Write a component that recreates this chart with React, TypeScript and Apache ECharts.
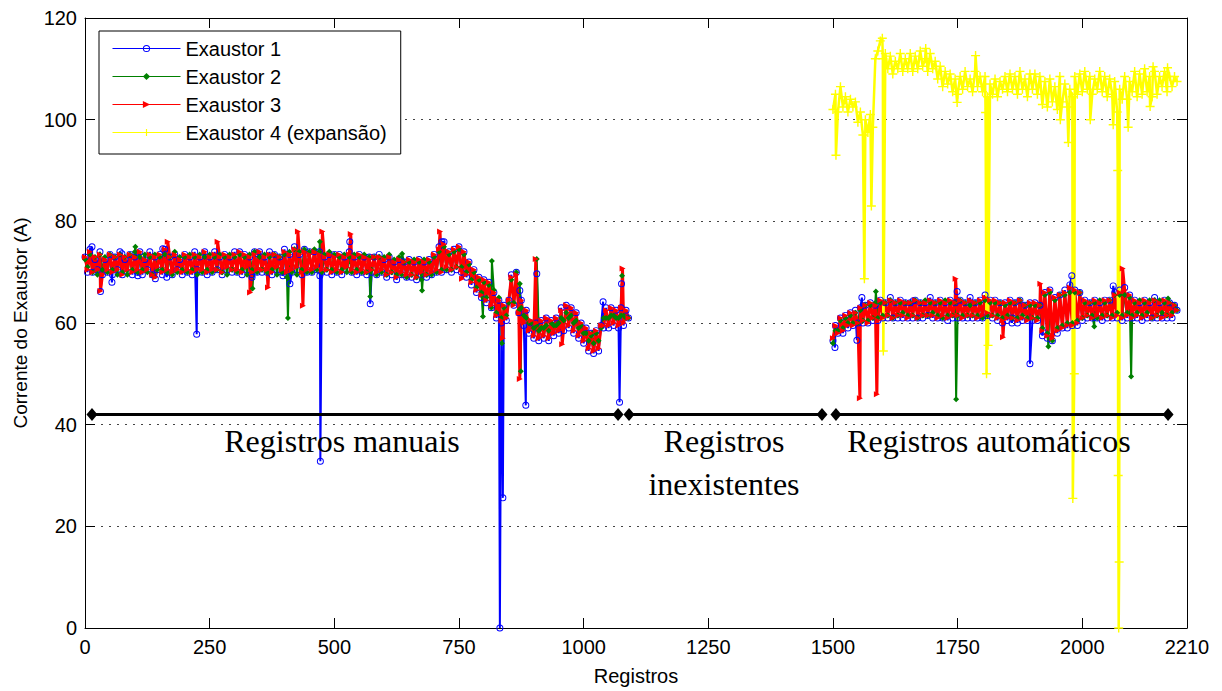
import React, { useEffect, useRef } from "react";
import * as echarts from "echarts";

// ---------- DATA ----------
const xTickStep = 250;
const xMax = 2210;
const yMax = 120;

// manual records: x = 0, 5, 10, ... 1090 ; automatic records: x = 1500, 1505, ... 2190
const manualStart = 0;
const autoStart = 1500;
const recordStep = 5;

const e1Manual = [
  73, 70, 74.5, 70, 72.5, 70.5, 74, 69.5, 72.5, 70,
  73.5, 69.5, 73, 70.5, 74, 69.5, 72.5, 70, 73.5, 69.5,
  73, 70, 74, 69.5, 72.5, 70.5, 74, 69.5, 73, 70.5,
  73.5, 69.5, 74.5, 70, 73, 69.5, 73.5, 70.5, 72.5, 69.5,
  73.5, 70, 73, 69.5, 74, 70.5, 73, 70, 74, 69.5,
  73, 70, 74, 70.5, 73, 69.5, 73.5, 70.5, 73, 70,
  74, 70, 74, 69.5, 73.5, 70.5, 73, 69.5, 74, 70,
  74, 70, 73, 70, 74, 69.5, 73.5, 70.5, 73, 70,
  74.5, 69.5, 73.5, 70, 75, 70.5, 73.5, 69.5, 74.5, 70,
  74, 70, 74, 70.5, 74, 70, 73, 70, 73.5, 69.5,
  73.5, 70, 73.5, 69.5, 73, 70.5, 74, 70, 73, 69.5,
  73.5, 70, 73, 69.5, 73, 70, 73, 69.5, 73.5, 70,
  72.5, 69, 73, 69.5, 72, 68.5, 72.5, 69.5, 72, 69,
  72.5, 69, 72, 68.5, 72.5, 69.5, 72, 69, 72.5, 69.5,
  73.5, 70, 75, 70, 76, 70.5, 74, 70, 74.5, 70.5,
  75, 70, 74, 69, 72, 67.5, 70.5, 66, 69, 65,
  68.5, 64, 68, 63, 66, 61, 64.5, 60, 63.5, 60.5,
  64.5, 69.5, 63.5, 70, 62, 64.5, 59.5, 62.5, 58, 60,
  57, 60, 56.5, 60.5, 57, 61, 56.5, 60.5, 57.5, 61,
  58, 63, 58.5, 63.5, 59, 63, 58, 62, 57, 60,
  56, 59, 54.5, 58, 54, 58.5, 54.5, 59.5, 59, 63,
  59, 63, 59.5, 62.5, 59, 63, 59.5, 62.5, 61,
];
const e2Manual = [
  72.5, 71, 73.5, 70, 73, 69.5, 73.5, 70.5, 73, 70,
  73.5, 70.5, 73, 69.5, 73.5, 70, 73, 69.5, 73.5, 70.5,
  74, 70, 73, 70.5, 73.5, 70, 73, 69.5, 73.5, 70.5,
  73, 70.5, 73.5, 70, 73, 69.5, 74, 70, 73, 70.5,
  73, 70, 73.5, 70.5, 73, 69.5, 73.5, 70, 73, 70.5,
  73.5, 70, 73, 70.5, 73.5, 70, 73, 69.5, 73.5, 70.5,
  73, 70, 73.5, 70.5, 73, 69.5, 73.5, 70.5, 74, 70,
  73, 70.5, 73.5, 70, 73, 70.5, 73.5, 69.5, 73, 70,
  73.5, 69, 74, 70, 74.5, 69.5, 74, 70.5, 74.5, 70,
  74, 70, 74.5, 70.5, 74, 70, 73.5, 70.5, 74, 70.5,
  73.5, 70, 73, 70.5, 73.5, 70, 73, 70, 73.5, 70.5,
  73, 70, 73.5, 70, 73, 70.5, 73, 69.5, 73, 70,
  73, 69.5, 73.5, 70, 72.5, 69.5, 73, 69.5, 72, 69,
  72, 69.5, 72.5, 69, 72, 68.5, 72.5, 69.5, 72, 69.5,
  73, 70, 74, 70.5, 75, 70.5, 73.5, 70.5, 74, 71,
  74.5, 71, 73.5, 70, 71.5, 68.5, 70, 67, 68.5, 66,
  68, 65, 67.5, 63, 66.5, 62, 65, 61, 63, 61.5,
  64, 68.5, 64, 70, 62.5, 63, 61.5, 61, 60, 60,
  59, 59.5, 58.5, 59, 59, 59.5, 58.5, 60, 59.5, 59.5,
  60, 61, 60.5, 62, 61, 61.5, 60, 60.5, 59, 59.5,
  58, 58, 56.5, 57.5, 56, 58, 56.5, 59, 61, 61,
  61, 61.5, 61.5, 61, 61, 61.5, 61.5, 61, 61,
];
const e3Manual = [
  73, 70.5, 74, 70, 73, 70.5, 73.5, 69.5, 72.5, 70.5,
  73.5, 70, 73, 70.5, 73.5, 69.5, 73, 70.5, 73.5, 70,
  73, 70.5, 74, 70, 72.5, 70.5, 73.5, 69.5, 73, 71,
  73.5, 70, 74.5, 70.5, 73, 70, 73.5, 70.5, 72.5, 70,
  73.5, 70.5, 73, 70, 73.5, 70.5, 73, 70.5, 74, 70,
  73, 70.5, 73.5, 70.5, 73, 70, 73.5, 71, 73, 70.5,
  73.5, 70.5, 74, 70, 73.5, 71, 73, 70, 73.5, 70.5,
  74, 70.5, 73, 70.5, 73.5, 70, 73.5, 71, 73, 70.5,
  74, 70, 73.5, 70.5, 74.5, 71, 73.5, 70, 74, 70.5,
  73.5, 70.5, 74, 71, 73.5, 70.5, 73, 70.5, 73.5, 70,
  73, 70.5, 73.5, 70, 73, 71, 73.5, 70.5, 73, 70,
  73.5, 70.5, 73, 70, 72.5, 70.5, 73, 70, 73, 70.5,
  72.5, 69.5, 73, 70, 72, 69, 72.5, 70, 72, 69.5,
  72.5, 69.5, 72, 69, 72.5, 70, 72, 69.5, 72.5, 70,
  73.5, 70.5, 74.5, 70, 75.5, 71, 74, 70.5, 74.5, 71,
  75, 70.5, 74, 69.5, 72, 68, 70.5, 66.5, 69, 65.5,
  68.5, 64.5, 68, 63.5, 66, 61.5, 64.5, 60.5, 63.5, 61,
  64.5, 69, 63.5, 69.5, 62, 64.5, 60, 62.5, 58.5, 60.5,
  57.5, 60, 57, 60.5, 57.5, 61, 57, 60.5, 58, 61,
  58.5, 62.5, 59, 63.5, 59.5, 63, 58.5, 62, 57.5, 60,
  56.5, 59, 55, 58, 54.5, 58.5, 55, 59.5, 59.5, 62.5,
  59.5, 63, 60, 62.5, 59.5, 63, 60, 62.5, 61,
];

const e1Auto = [
  56.5, 59.5, 58, 61, 58, 61.5, 59, 62, 59.5, 62.5,
  60, 63, 60, 63.5, 60, 64, 60.5, 63.5, 60.5, 64.5,
  61, 64, 61, 65, 61, 64, 61, 64.5, 61, 64,
  61, 64, 61, 64.5, 61, 64, 61, 64, 61.5, 65,
  61, 64, 61, 64.5, 61, 64, 60.5, 64.5, 61, 64,
  61, 64.5, 61, 64, 61, 65, 61, 64, 61, 64.5,
  61, 65.5, 61.5, 64.5, 61, 64.5, 60.5, 64, 60, 64,
  60.5, 64.5, 61, 64, 60, 64.5, 60.5, 63.5, 60.5, 64,
  60.5, 64, 60.5, 63.5, 57.5, 66, 57, 66.5, 56.5, 65,
  58, 65.5, 59, 66.5, 59, 67.5, 59.5, 66.5, 59.5, 66,
  60.5, 64.5, 61, 64, 61, 64.5, 61, 64, 60.5, 64.5,
  61, 64.5, 61, 66, 61, 66.5, 60.5, 67, 61, 65.5,
  61, 64.5, 61, 64, 60.5, 64.5, 61, 64, 61, 65,
  61, 64, 61, 64.5, 61, 64, 61, 63.5, 62.5,
];
const e2Auto = [
  56, 58.5, 58.5, 60.5, 59, 61, 60, 61.5, 60, 62,
  60, 62.5, 60.5, 63.5, 60.5, 63.5, 61, 64, 61, 64,
  61.5, 64, 61.5, 64.5, 61, 64, 61.5, 64, 62, 64,
  61.5, 64, 61.5, 64.5, 61, 64, 61.5, 64.5, 61.5, 64,
  62, 64, 61.5, 64, 61, 64.5, 61.5, 64, 61.5, 64,
  61.5, 64.5, 61.5, 64, 61.5, 63.5, 61.5, 64, 61.5, 64,
  61, 64.5, 61.5, 64, 61.5, 64, 61.5, 64, 61, 63.5,
  61.5, 64, 61, 64, 61, 64.5, 61.5, 63.5, 61, 63.5,
  61, 63.5, 61, 63.5, 59, 65.5, 58, 66, 56.5, 64.5,
  59, 65.5, 59.5, 65.5, 60, 66, 60, 66, 60.5, 66,
  61, 64, 61.5, 64, 61.5, 64, 61, 64.5, 61.5, 64,
  61.5, 64.5, 61.5, 65.5, 62, 65.5, 61.5, 65.5, 62, 65,
  61.5, 64, 62, 64.5, 61.5, 64, 62, 64.5, 61, 64.5,
  61.5, 64.5, 62, 64, 61.5, 64, 62, 63.5, 62.5,
];
const e3Auto = [
  57, 59.5, 58, 61, 58.5, 61.5, 59.5, 62, 59.5, 62,
  60, 63, 60.5, 63.5, 60, 64, 61, 63.5, 60.5, 64.5,
  61, 64, 61.5, 64.5, 61, 64, 61.5, 64.5, 61.5, 64,
  61, 64, 61.5, 64.5, 61, 64, 61.5, 64, 61.5, 64.5,
  61.5, 64, 61, 64.5, 61.5, 64, 61, 64.5, 61.5, 64,
  61.5, 64.5, 61, 64, 61.5, 64.5, 61.5, 64, 61, 64.5,
  61.5, 65, 62, 64.5, 61.5, 64.5, 61, 64, 60.5, 64,
  61, 64.5, 61, 64, 60.5, 64.5, 61, 63.5, 60.5, 64,
  61, 64, 60.5, 63.5, 58.5, 66, 57.5, 66.5, 57, 65,
  58.5, 65.5, 59, 66, 59.5, 67, 59.5, 66.5, 60, 66,
  61, 64.5, 61.5, 64, 61, 64.5, 61.5, 64, 61, 64.5,
  61.5, 64.5, 61, 65.5, 61.5, 66, 61, 66.5, 61.5, 65.5,
  61, 64.5, 61.5, 64, 61, 64.5, 61.5, 64, 61, 64.5,
  61.5, 64, 61, 64.5, 61.5, 64, 61.5, 63.5, 62.5,
];
const e4Auto = [
  102, 105, 101.5, 106.5, 102.5, 104.5, 101.5, 104, 102.5, 103.5,
  99.5, 101.5, 97, 100, 97.5, 101, 98.5, 112, 113.5, 115.5,
  112, 113, 110, 112.5, 109, 111.5, 110, 113, 109.5, 112,
  110, 113, 109.5, 112.5, 110, 113.5, 110.5, 112, 109.5, 113,
  110, 111.5, 108, 110.5, 106.5, 109.5, 107, 109, 105.5, 108,
  105, 108.5, 106, 109.5, 106.5, 108, 105.5, 109.5, 106.5, 108.5,
  105.5, 108.5, 104.5, 107, 105, 108, 104.5, 107.5, 106, 108.5,
  105.5, 109, 106, 108.5, 105, 109.5, 106, 108, 104.5, 109,
  106, 109, 105, 108.5, 103, 107.5, 102.5, 108, 103.5, 106.5,
  102, 108.5, 103.5, 107, 102.5, 106, 104.5, 108.5, 105, 109,
  105.5, 109.5, 106, 108.5, 105, 108, 106, 109.5, 105.5, 108.5,
  104.5, 108, 105, 107.5, 101.5, 106, 104, 108.5, 104, 107.5,
  105.5, 109.5, 104.5, 109, 105, 110, 105.5, 108.5, 104.5, 109.5,
  105, 108.5, 106.5, 109.5, 105.5, 108.5, 106.5, 108.5, 107.5,
];

// isolated readings (outliers) as [registro, corrente]
const e1ManualSpikes = [
  [14, 75], [31, 66.2], [54, 68], [74, 73.6], [106, 69.3], [141, 68.7], [156, 74.6],
  [164, 69], [224, 57.8], [335, 69], [347, 73.6], [397, 69.3], [411, 67.7], [471, 69.3],
  [472, 32.8], [531, 76], [572, 63.8], [716, 76], [832, 0], [838, 25.6], [872, 66.4],
  [884, 43.8], [906, 69.7], [1039, 64.2], [1072, 44.4], [1076, 67.7],
];
const e2ManualSpikes = [
  [101, 75], [336, 66.8], [407, 61], [471, 76], [572, 65.2], [636, 73.6], [676, 66.4],
  [798, 61.3], [816, 72.2], [836, 56], [872, 67.7], [874, 50.5], [906, 72.6], [1017, 58],
  [1077, 69.3],
];
const e3ManualSpikes = [
  [31, 66.3], [141, 69], [166, 76], [266, 76], [331, 66], [367, 67], [427, 78], [437, 63.4],
  [476, 78], [533, 77.5], [712, 78], [756, 68.7], [838, 57], [872, 49], [904, 72.6],
  [957, 55.8], [1078, 70.7],
];
const e1AutoSpikes = [
  [1504, 55.2], [1548, 56.6], [1558, 65], [1661, 64.4], [1749, 66.2], [1859, 60],
  [1895, 52], [1921, 58.3], [1979, 69.3], [2062, 67.3],
];
const e2AutoSpikes = [
  [1586, 66.2], [1747, 45], [1932, 55.4], [2024, 59.3], [2098, 49.5], [2172, 64.8],
];
const e3AutoSpikes = [
  [1554, 45.2], [1588, 46], [1746, 68.7], [1841, 57.2], [1916, 67.7], [1941, 57.5], [2081, 70.7],
];
const e4AutoSpikes = [
  [1506, 93], [1563, 68.7], [1577, 83], [1599, 116], [1601, 54.5], [1686, 114],
  [1749, 103.4], [1786, 112.6], [1806, 101.4], [1808, 50], [1811, 55.6], [1956, 100],
  [1972, 95.5], [1981, 25.5], [1984, 50], [2016, 100], [2062, 99], [2071, 90], [2072, 30],
  [2073, 0], [2074, 13], [2092, 98.5], [2136, 102.6], [2142, 110.4], [2171, 110.2],
];

// record periods (black bars at 42 A)
const periodLevel = 42;
const periods = [
  [14, 1069],
  [1091, 1478],
  [1506, 2172],
];
const periodLabels = ["Registros manuais", "Registros", "inexistentes", "Registros automáticos"];

const seriesNames = ["Exaustor 1", "Exaustor 2", "Exaustor 3", "Exaustor 4 (expansão)"];
const seriesColors = ["#0000ff", "#008000", "#ff0000", "#ffff00"];

// ---------- helpers ----------
type Pt = (number | string)[];
function build(start: number, vals: number[], spikes: number[][]): Pt[] {
  const pts: number[][] = vals.map((v, i) => [start + i * recordStep, v]);
  return pts.concat(spikes).sort((a, b) => a[0] - b[0]);
}
function joinSegments(a: Pt[], b: Pt[]): Pt[] {
  return [...a, [1300, "-"], ...b];
}

const ringPath =
  "path://M5,0A5,5 0 1,1 5,10A5,5 0 1,1 5,0ZM5,1.4A3.6,3.6 0 1,0 5,8.6A3.6,3.6 0 1,0 5,1.4Z";
const triRight = "path://M0,0L10,5L0,10Z";
const plusPath = "path://M4.2,0H5.8V4.2H10V5.8H5.8V10H4.2V5.8H0V4.2H4.2Z";

export default function App() {
  const ref = useRef<HTMLDivElement>(null);
  useEffect(() => {
    if (!ref.current) return;
    const chart = echarts.init(ref.current, undefined, { renderer: "svg" });
    const font = "Liberation Sans";

    const d1 = joinSegments(build(manualStart, e1Manual, e1ManualSpikes), build(autoStart, e1Auto, e1AutoSpikes));
    const d2 = joinSegments(build(manualStart, e2Manual, e2ManualSpikes), build(autoStart, e2Auto, e2AutoSpikes));
    const d3 = joinSegments(build(manualStart, e3Manual, e3ManualSpikes), build(autoStart, e3Auto, e3AutoSpikes));
    const d4 = build(autoStart, e4Auto, e4AutoSpikes);

    const periodData: Pt[] = [];
    periods.forEach((p, i) => {
      if (i > 0) periodData.push([p[0] - 5, "-"]);
      periodData.push([p[0], periodLevel], [p[1], periodLevel]);
    });

    const mkLine = (name: string, color: string, data: Pt[], symbol: string, size: number, width: number) => ({
      name,
      type: "line",
      data,
      symbol,
      symbolSize: size,
      showSymbol: true,
      showAllSymbol: true,
      lineStyle: { color, width },
      itemStyle: { color },
      emphasis: { disabled: true },
      z: 2,
    });

    const plain = (v: number) => String(v);

    const xAxisBase = {
      type: "value",
      min: 0,
      max: xMax,
      interval: xTickStep,
      axisLine: { show: true, onZero: false, lineStyle: { color: "#000", width: 1 } },
      axisTick: { show: true, inside: true, length: 10, lineStyle: { color: "#000" } },
      splitLine: { show: false },
    };
    const yAxisBase = {
      type: "value",
      min: 0,
      max: yMax,
      interval: 20,
      axisLine: { show: true, onZero: false, lineStyle: { color: "#000", width: 1 } },
      axisTick: { show: true, inside: true, length: 10, lineStyle: { color: "#000" } },
    };

    chart.setOption({
      animation: false,
      backgroundColor: "#fff",
      grid: { left: 85, right: 35, top: 18, bottom: 60, containLabel: false },
      legend: {
        data: seriesNames,
        orient: "vertical",
        left: 99,
        top: 31,
        padding: [7, 14, 11, 13],
        itemWidth: 68,
        itemHeight: 9,
        itemGap: 7,
        borderColor: "#000",
        borderWidth: 1,
        backgroundColor: "#fff",
        selectedMode: false,
        lineStyle: { width: 1 },
        textStyle: { fontFamily: font, fontSize: 20, color: "#000", lineHeight: 21 },
      },
      xAxis: [
        {
          ...xAxisBase,
          position: "bottom",
          name: "Registros",
          nameLocation: "middle",
          nameGap: 38,
          nameTextStyle: { fontFamily: font, fontSize: 20, color: "#000" },
          axisLabel: { show: true, margin: 9, fontFamily: font, fontSize: 20, color: "#000", formatter: plain },
        },
        { ...xAxisBase, position: "top", axisLabel: { show: false } },
      ],
      yAxis: [
        {
          ...yAxisBase,
          position: "left",
          name: "Corrente do Exaustor (A)",
          nameLocation: "middle",
          nameRotate: 90,
          nameGap: 55,
          nameTextStyle: { fontFamily: font, fontSize: 19, color: "#000" },
          axisLabel: { show: true, margin: 8, fontFamily: font, fontSize: 20, color: "#000", formatter: plain },
          splitLine: { show: true, lineStyle: { color: "#444", width: 1, type: [2, 6] } },
        },
        { ...yAxisBase, position: "right", axisLabel: { show: false }, splitLine: { show: false } },
      ],
      series: [
        mkLine(seriesNames[0], seriesColors[0], d1, ringPath, 7, 2),
        mkLine(seriesNames[1], seriesColors[1], d2, "diamond", 6, 2),
        mkLine(seriesNames[2], seriesColors[2], d3, triRight, 6, 3),
        mkLine(seriesNames[3], seriesColors[3], d4, plusPath, 9, 2.5),
        {
          name: "periodos",
          type: "line",
          data: periodData,
          symbol: "diamond",
          symbolSize: [11, 13],
          lineStyle: { color: "#000", width: 3 },
          itemStyle: { color: "#000" },
          emphasis: { disabled: true },
          z: 3,
        },
      ],
      graphic: [
        { type: "text", x: 342, y: 441, style: { text: periodLabels[0], font: '32px "Liberation Serif"', fill: "#000", align: "center", verticalAlign: "middle" }, z: 10 },
        { type: "text", x: 724, y: 441, style: { text: periodLabels[1], font: '32px "Liberation Serif"', fill: "#000", align: "center", verticalAlign: "middle" }, z: 10 },
        { type: "text", x: 724, y: 484, style: { text: periodLabels[2], font: '32px "Liberation Serif"', fill: "#000", align: "center", verticalAlign: "middle" }, z: 10 },
        { type: "text", x: 989, y: 441, style: { text: periodLabels[3], font: '32px "Liberation Serif"', fill: "#000", align: "center", verticalAlign: "middle" }, z: 10 },
      ],
    });
    return () => chart.dispose();
  }, []);
  return <div ref={ref} style={{ position: "fixed", left: 0, top: 0, width: 1222, height: 691 }} />;
}
